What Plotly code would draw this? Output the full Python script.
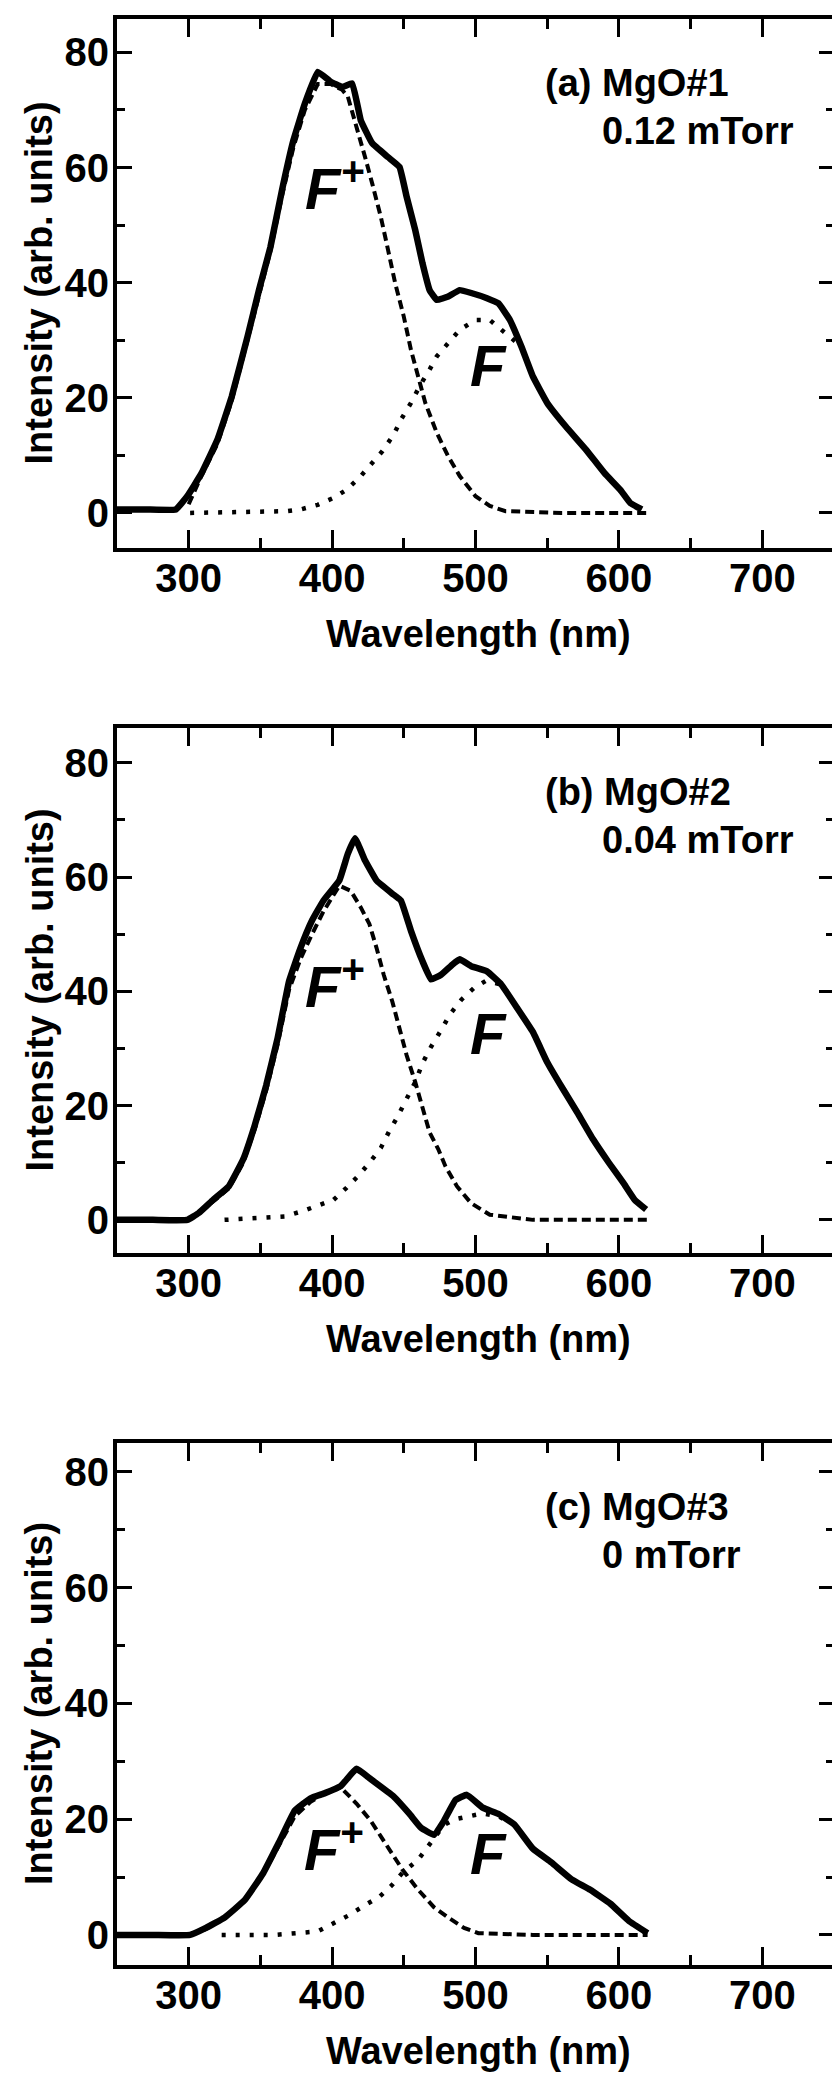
import plotly.graph_objects as go

# ---------------- data ----------------
# Panel (a) MgO#1, 0.12 mTorr
wl_tot_a = [250, 270, 291, 299, 309, 320, 330, 341, 349, 357, 365, 373, 381, 390, 399, 407, 414, 420, 428, 439,
            447, 452, 458, 463, 468, 473, 481, 489, 497, 508, 516, 524, 532, 540, 550, 563, 577, 590, 601, 608,
            616]
tot_a = [0.6, 0.6, 0.6, 2.9, 6.9, 12.7, 20.2, 30.6, 38.7, 46.2, 56, 64.7, 71.1, 76.6, 74.9, 74, 74.6, 68.2, 64.2,
         61.8, 60.1, 54.9, 49.1, 43.4, 38.7, 37, 37.6, 38.7, 38.2, 37.3, 36.4, 33.5, 28.9, 23.7, 19.1, 15, 11,
         6.9, 4, 1.7, 0.6]
wl_fp_a = [300, 309, 320, 330, 341, 349, 357, 365, 373, 381, 390, 399, 407, 411, 418, 423, 428, 434, 439, 444,
           450, 455, 460, 465, 473, 481, 489, 500, 510, 521, 560, 620]
fp_a = [1.5, 6.5, 12, 19.5, 30, 38, 45.5, 55, 63.5, 70, 74.5, 74.5, 73.5, 72.3, 66.5, 61.8, 57.2, 51.4, 45.7,
        39.9, 34.1, 28.3, 23.7, 19.1, 13.9, 9.8, 6.4, 2.9, 1.2, 0.3, 0, 0]
wl_f_a = [301, 340, 368, 378, 390, 401, 410, 419, 427, 435, 443, 448, 455, 461, 468, 473, 481, 489, 500, 510,
          521, 532, 540, 550, 563, 577, 590, 601, 608, 616]
f_a = [0, 0.1, 0.3, 0.6, 1.4, 2.6, 4, 6.1, 8.4, 10.7, 13.6, 16.2, 19.1, 22, 24.9, 27.2, 29.5, 31.8, 33.5, 33.5,
       31.2, 28.9, 23.7, 19.1, 15, 11, 6.9, 4, 1.7, 0.6]

# Panel (b) MgO#2, 0.04 mTorr
wl_tot_b = [250, 275, 299, 307, 317, 328, 338, 346, 354, 362, 370, 378, 386, 394, 405, 411, 416, 423, 431, 442,
            448, 455, 463, 469, 476, 484, 489, 497, 508, 518, 529, 540, 550, 561, 571, 582, 593, 603, 611, 619]
tot_b = [0, 0, 0, 1.2, 3.5, 5.9, 10.6, 16.5, 23.5, 31.8, 41.8, 47.6, 52.4, 55.9, 59.4, 64.1, 66.8, 62.9, 59.4,
         57.1, 55.9, 50.6, 45.3, 42.1, 42.9, 44.7, 45.6, 44.4, 43.5, 41.2, 37.1, 32.9, 27.6, 22.9, 18.8, 14.1,
         10, 6.5, 3.5, 1.8]
wl_fp_b = [300, 307, 317, 328, 338, 346, 354, 362, 370, 378, 386, 394, 405, 413, 420, 426, 431, 436, 442, 447,
           452, 458, 463, 468, 474, 479, 487, 497, 510, 540, 620]
fp_b = [0, 1.1, 3.2, 5.5, 10, 15.8, 22.6, 30.7, 40.3, 45.7, 50, 54, 58.5, 57.6, 54.7, 51.8, 47.6, 42.9, 38.2,
        33.5, 28.8, 24.1, 19.4, 15.3, 12.4, 9.4, 5.9, 2.9, 0.9, 0, 0]
wl_f_b = [325, 357, 367, 379, 390, 401, 410, 419, 427, 434, 440, 446, 452, 458, 463, 469, 476, 482, 490, 499,
          507, 518, 529, 540, 550, 561, 571, 582, 593, 603, 611, 619]
f_b = [0, 0.6, 0.6, 1.5, 2.4, 3.5, 5.6, 7.9, 10.3, 12.6, 15.6, 18.2, 21.2, 24.1, 27.4, 30.3, 33.2, 35.9, 38.5,
       40.6, 41.8, 41.2, 37.1, 32.9, 27.6, 22.9, 18.8, 14.1, 10, 6.5, 3.5, 1.8]

# Panel (c) MgO#3, 0 mTorr
wl_tot_c = [250, 275, 301, 312, 325, 339, 352, 363, 374, 385, 395, 406, 417, 427, 443, 454, 462, 471, 478, 486,
            494, 505, 516, 527, 540, 553, 567, 580, 594, 607, 620]
tot_c = [0, 0, 0, 1.2, 3, 6, 10.7, 16, 21.5, 23.6, 24.5, 25.7, 28.7, 26.9, 23.9, 20.9, 18.5, 17.3, 19.7, 23.3,
         24.2, 22, 20.9, 19.1, 14.9, 12.5, 9.6, 7.8, 5.4, 2.4, 0.3]
wl_fp_c = [300, 312, 325, 339, 352, 363, 374, 385, 395, 406, 417, 427, 438, 449, 460, 471, 481, 492, 502, 540, 620]
fp_c = [0, 1, 3, 6, 10.5, 15.5, 20.5, 23, 24.5, 25.5, 22.7, 19.7, 15.5, 11.3, 7.8, 4.8, 3, 1.2, 0.3, 0, 0]
wl_f_c = [323, 360, 390, 401, 411, 422, 433, 441, 449, 460, 468, 478, 486, 497, 505, 516, 527, 540, 553, 567,
          580, 594, 607, 620]
f_c = [0, 0, 0.6, 2, 3.3, 5, 6.6, 8.4, 10.7, 13, 15.8, 19, 20, 20.6, 21, 20.5, 19, 14.9, 12.5, 9.6, 7.8, 5.4,
       2.4, 0.3]

panel_labels = ["(a) MgO#1", "(b) MgO#2", "(c) MgO#3"]
pressure_labels = ["0.12 mTorr", "0.04 mTorr", "0 mTorr"]
x_title = "Wavelength (nm)"
y_title = "Intensity (arb. units)"
x_ticks = [300, 400, 500, 600, 700]
y_ticks = [0, 20, 40, 60, 80]

# F+ / F label positions (data coords) per panel
fp_label_pos = [(380, 57), (380, 41.5), (379, 15.5)]
f_label_pos = [(495, 25.6), (495, 32.7), (495, 14)]

# ---------------- layout geometry (page pixels) ----------------
OFF = 8                      # default page body margin
W, H = 840 - OFF, 2085 - OFF
FONT = "Liberation Sans, Arial, sans-serif"
x_left, x_right = 117, 834
tops = [19, 728, 1443]
bottoms = [548, 1253, 1965]
y_ranges = [[-6.1, 85.8], [-5.8, 86.1], [-5.2, 85.0]]

def px(x):
    return (x - OFF) / W

def py(y):
    return 1 - (y - OFF) / H

fig = go.Figure()

series = [
    (wl_tot_a, tot_a, wl_fp_a, fp_a, wl_f_a, f_a),
    (wl_tot_b, tot_b, wl_fp_b, fp_b, wl_f_b, f_b),
    (wl_tot_c, tot_c, wl_fp_c, fp_c, wl_f_c, f_c),
]

tickfont = dict(family=FONT, size=40, color="black", weight=700)
txtfont = dict(family=FONT, size=38, color="black", weight=700)
flabfont = dict(family=FONT, size=58, color="black", weight=700, style="italic")

for i, (wt, t, wp, p, wf, f) in enumerate(series):
    sfx = "" if i == 0 else str(i + 1)
    xa, ya = "x" + sfx, "y" + sfx
    fig.add_trace(go.Scatter(x=wf, y=f, mode="lines", xaxis=xa, yaxis=ya,
                             line=dict(color="black", width=4.5, dash="4px,10px"), showlegend=False))
    fig.add_trace(go.Scatter(x=wp, y=p, mode="lines", xaxis=xa, yaxis=ya,
                             line=dict(color="black", width=4, dash="9px,5px"), showlegend=False))
    fig.add_trace(go.Scatter(x=wt, y=t, mode="lines", xaxis=xa, yaxis=ya,
                             line=dict(color="black", width=6.5, shape="spline", smoothing=0.3),
                             showlegend=False))

    common = dict(showline=True, linecolor="black", linewidth=4, mirror="allticks",
                  ticks="inside", tickwidth=3, tickcolor="black", showgrid=False, zeroline=False,
                  tickfont=tickfont)
    fig.layout["xaxis" + sfx] = dict(
        domain=[px(x_left), px(x_right)], anchor=ya, range=[250, 750],
        tickvals=x_ticks, ticklen=18, ticklabelstandoff=-8,
        minor=dict(dtick=50, tick0=250, ticks="inside", ticklen=10, tickwidth=3, tickcolor="black"),
        **common)
    fig.layout["yaxis" + sfx] = dict(
        domain=[py(bottoms[i]), py(tops[i])], anchor=xa, range=y_ranges[i],
        tickvals=y_ticks, ticklen=15, ticklabelstandoff=-4,
        minor=dict(dtick=10, tick0=0, ticks="inside", ticklen=8, tickwidth=3, tickcolor="black"),
        **common)

    # panel text
    fig.add_annotation(text=panel_labels[i], xref="paper", yref="paper",
                       x=px(543), y=py(tops[i] + 64), xanchor="left", yanchor="middle",
                       showarrow=False, font=txtfont)
    fig.add_annotation(text=pressure_labels[i], xref="paper", yref="paper",
                       x=px(600), y=py(tops[i] + 112), xanchor="left", yanchor="middle",
                       showarrow=False, font=txtfont)
    # F+ and F labels
    fig.add_annotation(text="F<sup>+</sup>", xref=xa, yref=ya,
                       x=fp_label_pos[i][0], y=fp_label_pos[i][1], xanchor="left", yanchor="middle",
                       showarrow=False, font=flabfont)
    fig.add_annotation(text="F", xref=xa, yref=ya,
                       x=f_label_pos[i][0], y=f_label_pos[i][1], xanchor="left", yanchor="middle",
                       showarrow=False, font=flabfont)
    # axis titles
    fig.add_annotation(text=x_title, xref="paper", yref="paper",
                       x=px(478), y=py(bottoms[i] + 86), xanchor="center", yanchor="middle",
                       showarrow=False, font=txtfont)
    fig.add_annotation(text=y_title, xref="paper", yref="paper", textangle=-90,
                       x=px(39), y=py((tops[i] + bottoms[i]) / 2), xanchor="center", yanchor="middle",
                       showarrow=False, font=txtfont)

fig.update_layout(width=W, height=H, margin=dict(l=0, r=0, t=0, b=0),
                  paper_bgcolor="white", plot_bgcolor="white", showlegend=False)

fig.write_html("out.html")
